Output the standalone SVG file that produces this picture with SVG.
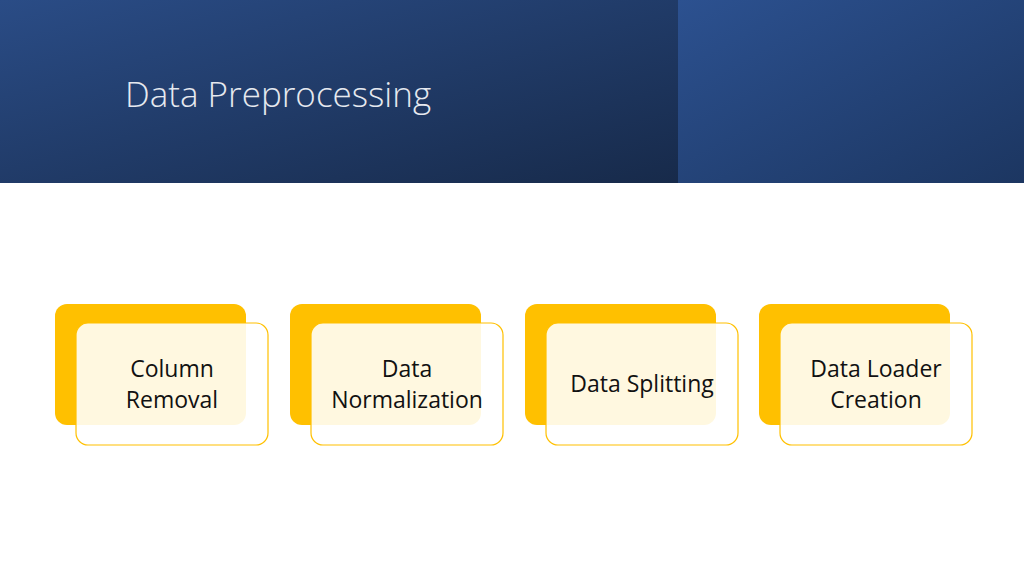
<svg xmlns="http://www.w3.org/2000/svg" width="1024" height="576" viewBox="0 0 1024 576">
<defs>
<linearGradient id="gl" x1="0" y1="0" x2="1" y2="1"><stop offset="0" stop-color="#2a4c86"/><stop offset="1" stop-color="#172a4a"/></linearGradient>
<linearGradient id="gr" x1="0" y1="0" x2="1" y2="1"><stop offset="0" stop-color="#2c5190"/><stop offset="1" stop-color="#1c3661"/></linearGradient>
</defs>
<style>
.back{fill:#ffc000}
.front{fill:#fff;fill-opacity:0.88;stroke:#ffc000;stroke-width:1.2}
.t{font-family:"Open Sans","Liberation Sans",sans-serif;font-size:23px;fill:#111;text-anchor:middle}
</style>
<rect width="1024" height="576" fill="#fff"/>
<rect x="0" y="0" width="678" height="183" fill="url(#gl)"/>
<rect x="678" y="0" width="346" height="183" fill="url(#gr)"/>
<text x="125" y="107" font-family="Open Sans, Liberation Sans, sans-serif" font-size="35" font-weight="300" fill="#e6e9ef">Data Preprocessing</text>
<g id="connectors"/>
<g id="n1"><rect class="back" x="55" y="304" width="191" height="121" rx="12"/><rect class="front" x="76" y="323" width="192" height="122" rx="12"/><text class="t" x="172" y="377">Column</text><text class="t" x="172" y="408">Removal</text></g>
<g id="n2"><rect class="back" x="290" y="304" width="191" height="121" rx="12"/><rect class="front" x="311" y="323" width="192" height="122" rx="12"/><text class="t" x="407" y="377">Data</text><text class="t" x="407" y="408">Normalization</text></g>
<g id="n3"><rect class="back" x="525" y="304" width="191" height="121" rx="12"/><rect class="front" x="546" y="323" width="192" height="122" rx="12"/><text class="t" x="642" y="392">Data Splitting</text></g>
<g id="n4"><rect class="back" x="759" y="304" width="191" height="121" rx="12"/><rect class="front" x="780" y="323" width="192" height="122" rx="12"/><text class="t" x="876" y="377">Data Loader</text><text class="t" x="876" y="408">Creation</text></g>
</svg>
